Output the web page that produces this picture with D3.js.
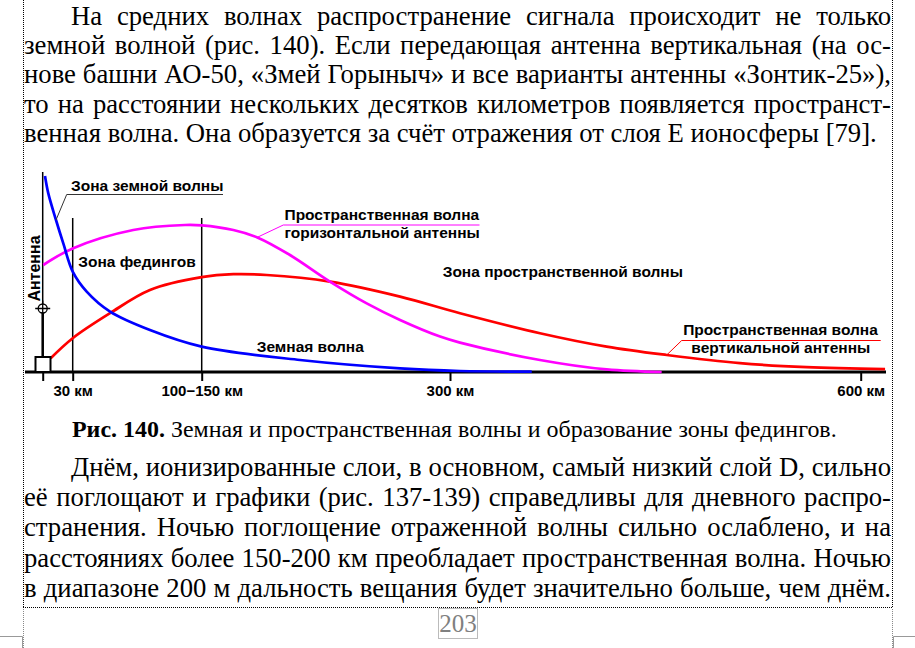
<!DOCTYPE html>
<html>
<head>
<meta charset="utf-8">
<script src="https://cdn.jsdelivr.net/npm/d3@7"></script>
<style>
  html, body { margin: 0; padding: 0; background: #fff; }
  svg { display: block; }
  .body-text { font-family: 'Liberation Serif', 'Times New Roman', 'DejaVu Serif', serif; fill: #000; }
  .fig-label { font-family: 'Liberation Sans', Arial, sans-serif; font-weight: bold; font-size: 15.5px; fill: #000; }
  .tick-label { font-family: 'Liberation Sans', Arial, sans-serif; font-weight: bold; font-size: 15px; fill: #000; }
</style>
</head>
<body>
<svg id="page" width="915" height="648"></svg>
<script>
  // --- chart data -------------------------------------------------------
  // distance marks on the ground line, km (0 = antenna)
  var tickKm = [0, 30, 125, 300, 600];
  var tickLabels = ['', '30 км', '100\u2212150 км', '300 км', '600 км'];

  // ground wave (blue)
  var groundKm    = [2.3, 5.6, 13.3, 20.6, 30, 40.3, 57.5, 86.9, 125, 194.3, 264.8, 307.3, 359.7];
  var groundLevel = [98, 89.3, 76, 64.3, 50.2, 40.2, 30.2, 21, 12.7, 6, 1.8, 0.5, 0.2];

  // sky wave of the horizontal antenna (magenta)
  var skyHorKm    = [0.6, 30, 74.6, 112.7, 125, 147.3, 164.2, 187.2, 215.4, 241.3, 264.8, 293, 307.3, 365.7, 414.4, 454.6];
  var skyHorLevel = [53.5, 61.8, 71, 73.5, 73.3, 71, 67.3, 58.5, 45.2, 34.3, 26, 17.7, 14.7, 6, 1.3, 0];

  // sky wave of the vertical antenna (red)
  var skyVerKm    = [8, 30, 57.5, 86.9, 125, 147.3, 170.8, 215.4, 264.8, 307.3, 365.7, 414.4, 458.3, 511.8, 560.5, 617.8];
  var skyVerLevel = [6.9, 16.9, 29.4, 41, 47.4, 48.9, 48.5, 45.2, 37.7, 29.4, 19.4, 12.7, 8.5, 4.4, 2.4, 1.4];

  // zone borders (km) and their height
  var zoneKm = [30, 125];
  var zoneTop = 77;

  // --- page text --------------------------------------------------------
  var topLines = [
    'На средних волнах распространение сигнала происходит не только',
    'земной волной (рис. 140). Если передающая антенна вертикальная (на ос-',
    'нове башни АО-50, «Змей Горыныч» и все варианты антенны «Зонтик-25»),',
    'то на расстоянии нескольких десятков километров появляется пространст-',
    'венная волна. Она образуется за счёт отражения от слоя Е ионосферы [79].'
  ];
  var bottomLines = [
    'Днём, ионизированные слои, в основном, самый низкий слой D, сильно',
    'её поглощают и графики (рис. 137-139) справедливы для дневного распро-',
    'странения. Ночью поглощение отраженной волны сильно ослаблено, и на',
    'расстояниях более 150-200 км преобладает пространственная волна. Ночью',
    'в диапазоне 200 м дальность вещания будет значительно больше, чем днём.'
  ];
  var captionBold = 'Рис. 140.';
  var captionText = ' Земная и пространственная волны и образование зоны федингов.';
  var pageNumber = '203';

  var svg = d3.select('#page');

  // --- page frame -------------------------------------------------------
  var frame = svg.append('g').attr('fill', 'none').attr('stroke-width', 1);
  frame.append('line').attr('x1', 23.5).attr('y1', 0).attr('x2', 23.5).attr('y2', 608)
    .attr('stroke', '#000').attr('stroke-dasharray', '1,1');
  frame.append('line').attr('x1', 892.5).attr('y1', 0).attr('x2', 892.5).attr('y2', 608)
    .attr('stroke', '#000').attr('stroke-dasharray', '1,1');
  frame.append('line').attr('x1', 23).attr('y1', 607.5).attr('x2', 893).attr('y2', 607.5)
    .attr('stroke', '#000').attr('stroke-dasharray', '1,1');
  frame.append('line').attr('x1', 23.5).attr('y1', 609).attr('x2', 23.5).attr('y2', 648)
    .attr('stroke', '#888').attr('stroke-dasharray', '1,1');
  frame.append('line').attr('x1', 892.5).attr('y1', 609).attr('x2', 892.5).attr('y2', 648)
    .attr('stroke', '#888').attr('stroke-dasharray', '1,1');
  // crop marks
  frame.append('path').attr('d', 'M0,636.5H22.5V648').attr('stroke', '#999');
  frame.append('path').attr('d', 'M915,636.5H893.5V648').attr('stroke', '#999');
  // page number box
  frame.append('rect').attr('x', 438.5).attr('y', 608.5).attr('width', 39).attr('height', 30)
    .attr('stroke', '#777').attr('stroke-dasharray', '1,1');
  svg.append('text').attr('class', 'body-text')
    .attr('x', 458).attr('y', 631.5).attr('text-anchor', 'middle')
    .style('font-size', '25px').style('fill', '#808080')
    .text(pageNumber);

  // --- justified paragraphs --------------------------------------------
  var textG = svg.append('g');
  var left = 24, right = 891, indent = 71;

  // font size from the natural width of the last (unjustified) line
  var probe = textG.append('text').attr('class', 'body-text').style('font-size', '100px').text(topLines[4]);
  var bodySize = 100 * (877 - left) / probe.node().getComputedTextLength();
  probe.remove();

  function setLine(str, x0, x1, y, justify) {
    if (!justify) {
      textG.append('text').attr('class', 'body-text').attr('x', x0).attr('y', y)
        .style('font-size', bodySize + 'px').text(str);
      return;
    }
    var words = str.split(' ');
    var nodes = words.map(function(w) {
      return textG.append('text').attr('class', 'body-text').attr('y', y)
        .style('font-size', bodySize + 'px').text(w);
    });
    var widths = nodes.map(function(n) { return n.node().getComputedTextLength(); });
    var gap = (x1 - x0 - d3.sum(widths)) / (words.length - 1);
    var x = x0;
    nodes.forEach(function(n, i) {
      n.attr('x', x);
      x += widths[i] + gap;
    });
  }

  topLines.forEach(function(l, i) {
    setLine(l, i === 0 ? indent : left, right, 25 + i * 29.2, i < topLines.length - 1);
  });
  bottomLines.forEach(function(l, i) {
    setLine(l, i === 0 ? indent : left, right, 476 + i * 30.2, true);
  });

  // caption
  var cap = textG.append('text').attr('class', 'body-text').attr('x', 72).attr('y', 436.7)
    .style('font-size', '100px');
  cap.append('tspan').style('font-weight', 'bold').text(captionBold);
  cap.append('tspan').text(captionText);
  var capW = cap.node().getComputedTextLength();
  cap.style('font-size', (100 * 765 / capW) + 'px');

  // --- figure -----------------------------------------------------------
  var x = d3.scaleLinear().domain(tickKm).range([42.7, 72.7, 201.7, 450, 860.7]);
  var y = d3.scaleLinear().domain([0, 100]).range([372, 172]);

  var fig = svg.append('g');

  // antenna mast (thin part) and zone borders
  fig.append('line').attr('x1', x(0)).attr('x2', x(0)).attr('y1', y(100)).attr('y2', y(0))
    .attr('stroke', '#000').attr('stroke-width', 1.5);
  fig.selectAll('.zone').data(zoneKm).enter().append('line')
    .attr('class', 'zone')
    .attr('x1', function(d) { return x(d); }).attr('x2', function(d) { return x(d); })
    .attr('y1', y(zoneTop)).attr('y2', y(0))
    .attr('stroke', '#000').attr('stroke-width', 1.5);

  // axis
  var axis = d3.axisBottom(x).tickValues(tickKm).tickSize(9)
    .tickFormat(function(d, i) { return tickLabels[i]; });
  var axisG = fig.append('g').attr('transform', 'translate(0,' + y(0) + ')').call(axis);
  axisG.select('.domain').remove();
  axisG.attr('font-family', null).attr('font-size', null);
  axisG.selectAll('.tick line').attr('stroke', '#000').attr('stroke-width', 2);
  axisG.selectAll('.tick text').attr('class', 'tick-label').attr('y', 13.5);
  fig.append('line').attr('x1', 25).attr('x2', 886).attr('y1', y(0)).attr('y2', y(0))
    .attr('stroke', '#000').attr('stroke-width', 2.8);

  // curves
  function curve(kms, levels, color) {
    var pts = kms.map(function(k, i) { return [k, levels[i]]; });
    fig.append('path').datum(pts)
      .attr('fill', 'none').attr('stroke', color).attr('stroke-width', 2.7)
      .attr('d', d3.line()
        .x(function(d) { return x(d[0]); })
        .y(function(d) { return y(d[1]); })
        .curve(d3.curveCatmullRom.alpha(0.5)));
  }
  curve(skyVerKm, skyVerLevel, '#ff0000');
  curve(skyHorKm, skyHorLevel, '#ff00ff');
  curve(groundKm, groundLevel, '#0000ff');

  // antenna symbol
  var ax = x(0);
  fig.append('line').attr('x1', ax).attr('x2', ax).attr('y1', 313).attr('y2', 357)
    .attr('stroke', '#000').attr('stroke-width', 2.5);
  fig.append('circle').attr('cx', ax).attr('cy', 308.5).attr('r', 4.5)
    .attr('fill', '#fff').attr('stroke', '#000').attr('stroke-width', 1.3);
  fig.append('path').attr('d', 'M' + (ax - 7.5) + ',308.5H' + (ax + 7.5) + 'M' + ax + ',300.5V316.5')
    .attr('stroke', '#000').attr('stroke-width', 1.3);
  fig.append('rect').attr('x', 35.5).attr('y', 357).attr('width', 15).attr('height', 15)
    .attr('fill', '#fff').attr('stroke', '#000').attr('stroke-width', 2);

  // labels and leaders
  fig.append('text').attr('class', 'fig-label').style('font-size', '16px')
    .attr('transform', 'translate(39.5,268.5) rotate(-90)').attr('text-anchor', 'middle')
    .text('Антенна');

  fig.append('text').attr('class', 'fig-label').attr('x', 71).attr('y', 191).text('Зона земной волны');
  fig.append('path').attr('d', 'M223,194.5H66.7L56,220')
    .attr('fill', 'none').attr('stroke', '#333').attr('stroke-width', 1);

  fig.append('text').attr('class', 'fig-label').attr('x', 284.5).attr('y', 220).text('Пространственная волна');
  fig.append('text').attr('class', 'fig-label').attr('x', 284.5).attr('y', 238.3).text('горизонтальной антенны');
  fig.append('path').attr('d', 'M479.5,225H283.3L257.3,237.3')
    .attr('fill', 'none').attr('stroke', '#ff00ff').attr('stroke-width', 1);

  fig.append('text').attr('class', 'fig-label').attr('x', 78.3).attr('y', 266.7).text('Зона федингов');
  fig.append('text').attr('class', 'fig-label').attr('x', 442.7).attr('y', 276.7).text('Зона пространственной волны');
  fig.append('text').attr('class', 'fig-label').attr('x', 256.7).attr('y', 351.7).text('Земная волна');

  fig.append('text').attr('class', 'fig-label').attr('x', 780.5).attr('y', 335)
    .attr('text-anchor', 'middle').text('Пространственная волна');
  fig.append('text').attr('class', 'fig-label').attr('x', 780.8).attr('y', 352.7)
    .attr('text-anchor', 'middle').text('вертикальной антенны');
  fig.append('path').attr('d', 'M880.7,340.5H681.7L666.7,355')
    .attr('fill', 'none').attr('stroke', '#ff0000').attr('stroke-width', 1);
</script>
</body>
</html>
